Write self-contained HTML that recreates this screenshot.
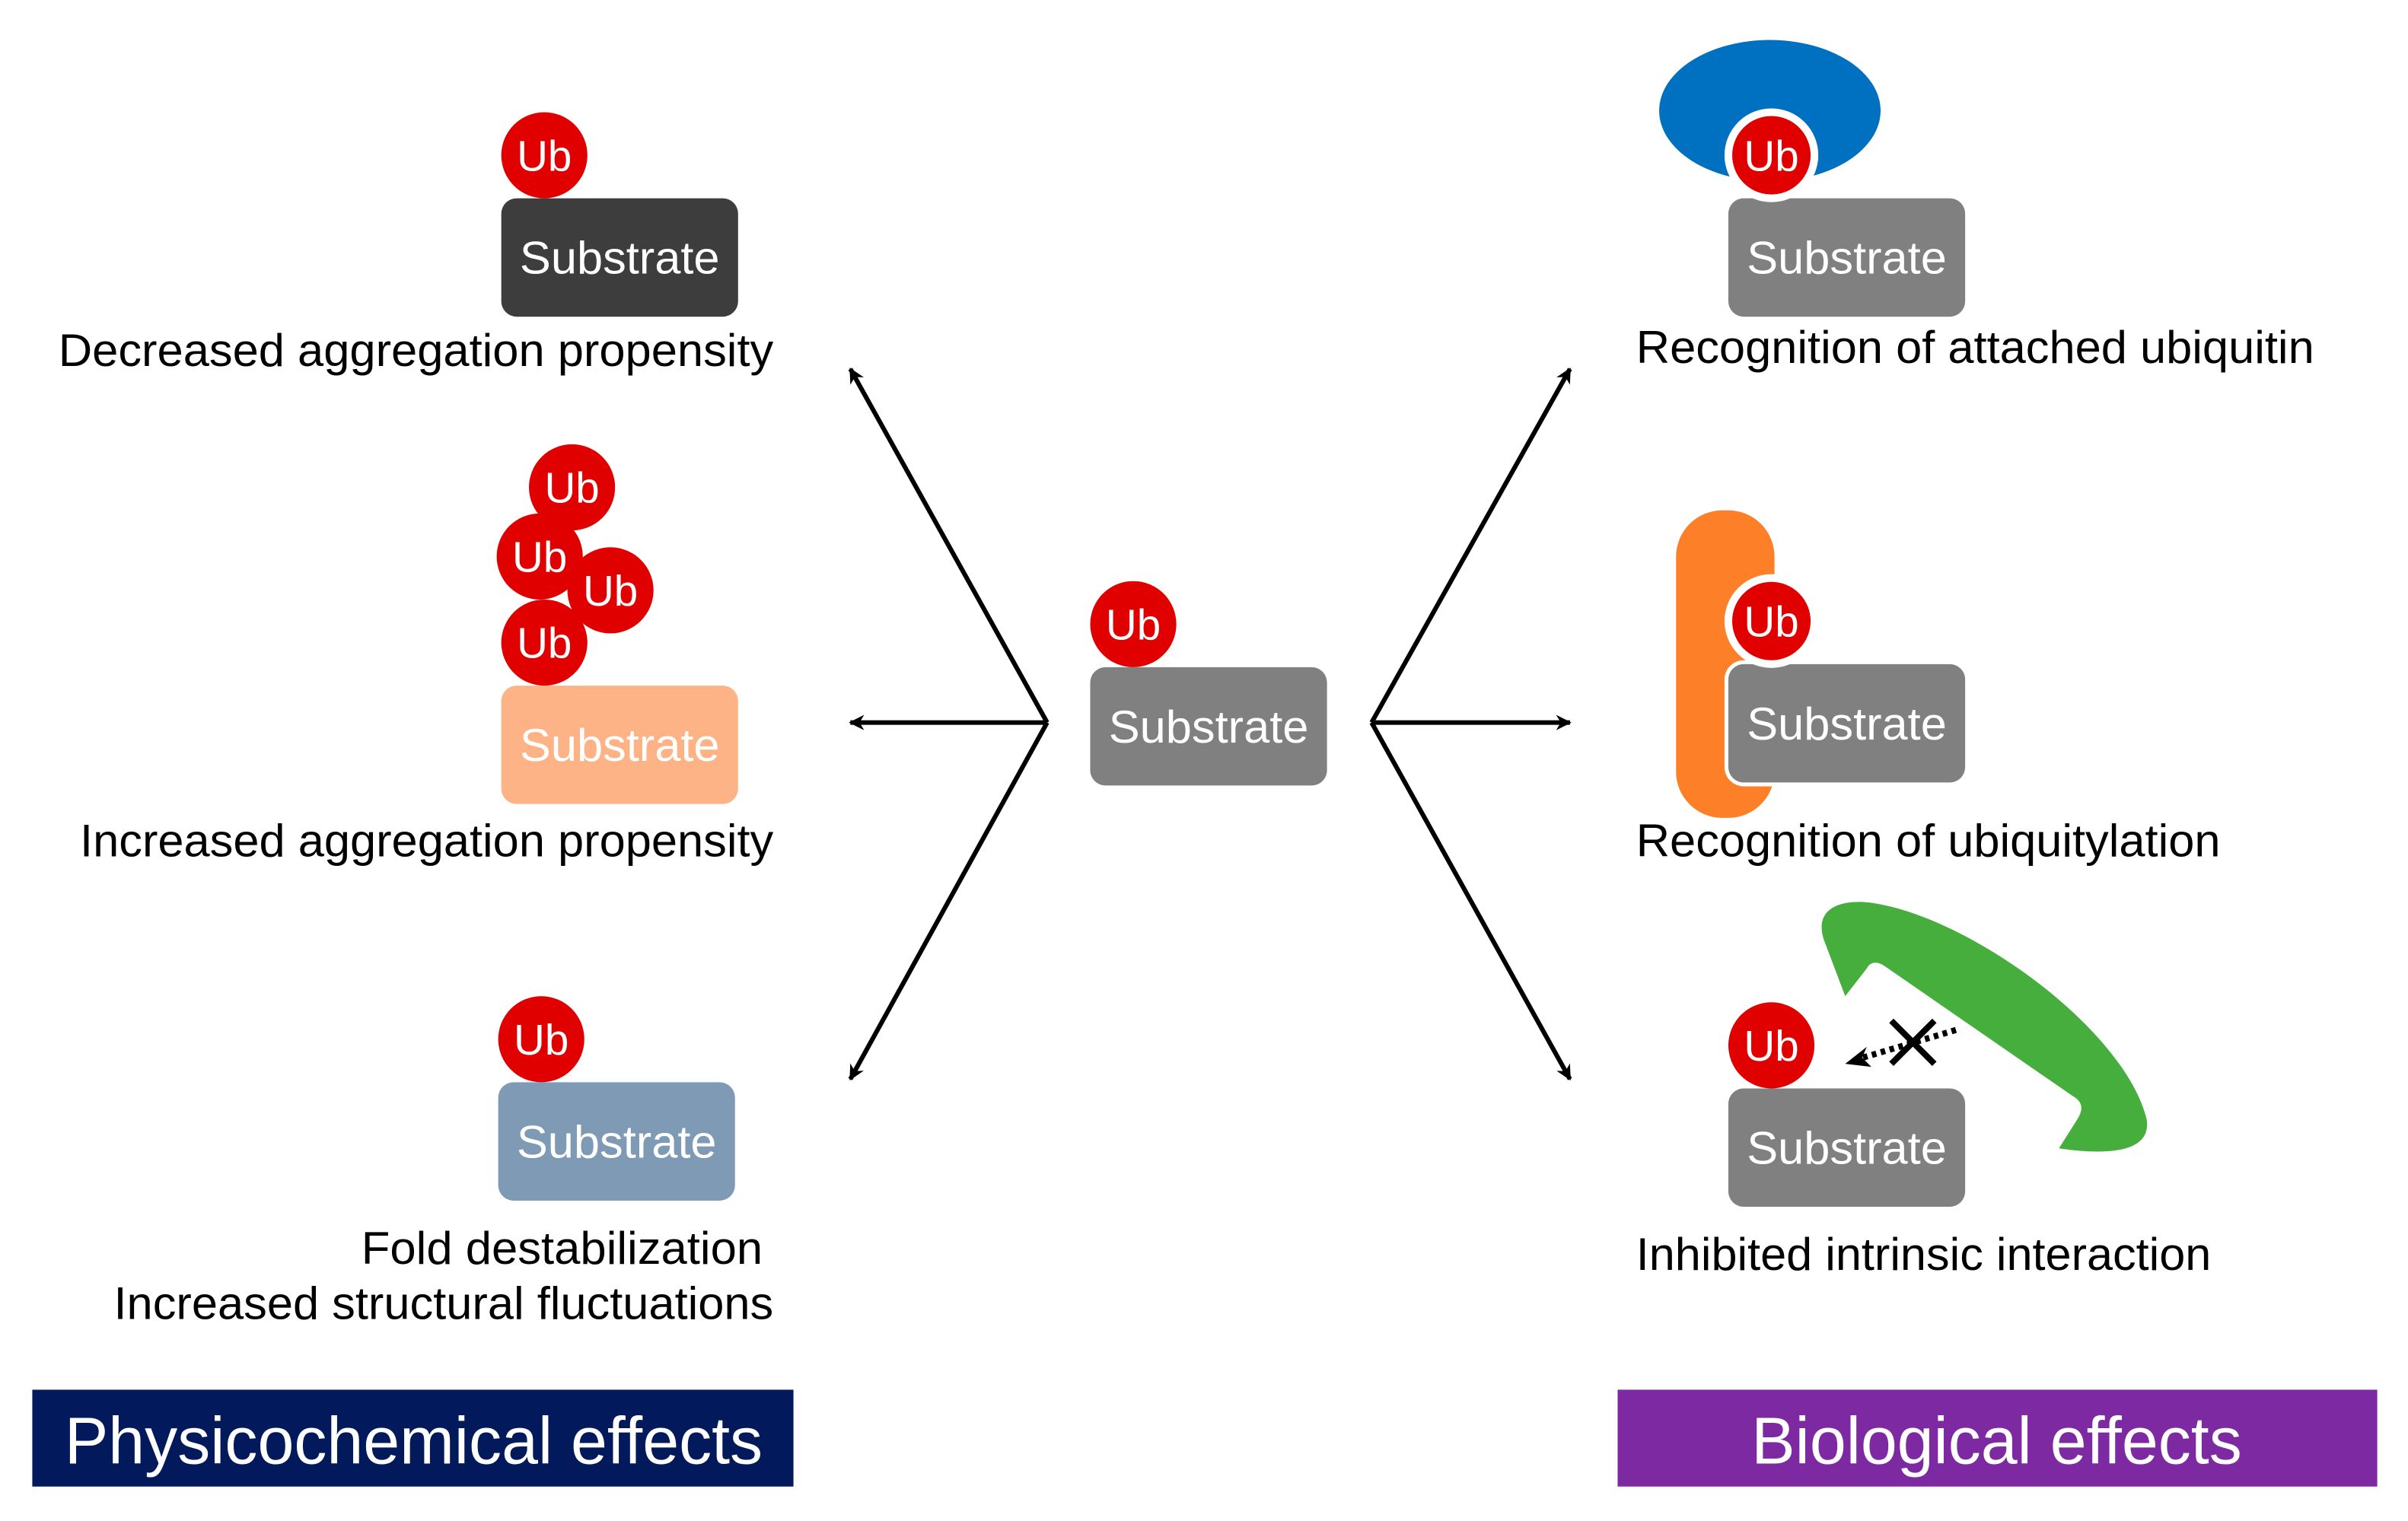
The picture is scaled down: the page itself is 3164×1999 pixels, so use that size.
<!DOCTYPE html>
<html><head><meta charset="utf-8"><style>html,body{margin:0;padding:0;background:#fff}svg{display:block}</style></head>
<body>
<svg width="3164" height="1999" viewBox="0 0 1566 989.4" preserveAspectRatio="none" xmlns="http://www.w3.org/2000/svg" font-family="'Liberation Sans', Arial, sans-serif">
<defs>
<marker id="ah" markerWidth="10" markerHeight="10" refX="9" refY="5" orient="auto" markerUnits="userSpaceOnUse">
<path d="M0,0 L10,5 L0,10 L3,5 Z" fill="#000"/>
</marker>
</defs>
<rect width="1566" height="990" fill="#fff"/>

<g stroke="#000" stroke-width="3" fill="none">
<line x1="681" y1="470" x2="553" y2="240" marker-end="url(#ah)"/>
<line x1="681" y1="470" x2="553" y2="470" marker-end="url(#ah)"/>
<line x1="681" y1="470" x2="553" y2="702" marker-end="url(#ah)"/>
<line x1="892" y1="470" x2="1021" y2="240" marker-end="url(#ah)"/>
<line x1="892" y1="470" x2="1021" y2="470" marker-end="url(#ah)"/>
<line x1="892" y1="470" x2="1021" y2="702" marker-end="url(#ah)"/>
</g>

<g font-size="30" fill="#fff" text-anchor="middle">
<rect x="326" y="129" width="154" height="77" rx="10" fill="#3d3d3d"/>
<text x="403" y="178" textLength="130" lengthAdjust="spacingAndGlyphs">Substrate</text>
<circle cx="354" cy="101" r="28" fill="#e00000"/>
<text x="354" y="111" font-size="28">Ub</text>

<rect x="326" y="446" width="154" height="77" rx="10" fill="#fdb385"/>
<text x="403" y="495" textLength="130" lengthAdjust="spacingAndGlyphs">Substrate</text>
<circle cx="372" cy="317" r="28" fill="#e00000"/>
<text x="372" y="327" font-size="28">Ub</text>
<circle cx="351" cy="362" r="28" fill="#e00000"/>
<text x="351" y="372" font-size="28">Ub</text>
<circle cx="397" cy="384" r="28" fill="#e00000"/>
<text x="397" y="394" font-size="28">Ub</text>
<circle cx="354" cy="418" r="28" fill="#e00000"/>
<text x="354" y="428" font-size="28">Ub</text>

<rect x="324" y="704" width="154" height="77" rx="10" fill="#7f9ab4"/>
<text x="401" y="753" textLength="130" lengthAdjust="spacingAndGlyphs">Substrate</text>
<circle cx="352" cy="676" r="28" fill="#e00000"/>
<text x="352" y="686" font-size="28">Ub</text>

<rect x="709" y="434" width="154" height="77" rx="10" fill="#808080"/>
<text x="786" y="483" textLength="130" lengthAdjust="spacingAndGlyphs">Substrate</text>
<circle cx="737" cy="406" r="28" fill="#e00000"/>
<text x="737" y="416" font-size="28">Ub</text>

<ellipse cx="1151" cy="72" rx="72" ry="46" fill="#0070c0"/>
<rect x="1124" y="129" width="154" height="77" rx="10" fill="#808080"/>
<text x="1201" y="178" textLength="130" lengthAdjust="spacingAndGlyphs">Substrate</text>
<circle cx="1152" cy="101" r="28" fill="#e00000" stroke="#fff" stroke-width="5"/>
<text x="1152" y="111" font-size="28">Ub</text>

<rect x="1090" y="332" width="64" height="200" rx="30" fill="#fd7f27"/>
<rect x="1124" y="432" width="154" height="77" rx="10" fill="#808080" stroke="#fff" stroke-width="5"/>
<rect x="1124" y="432" width="154" height="77" rx="10" fill="#808080"/>
<text x="1201" y="481" textLength="130" lengthAdjust="spacingAndGlyphs">Substrate</text>
<circle cx="1152" cy="404" r="28" fill="#e00000" stroke="#fff" stroke-width="5"/>
<text x="1152" y="414" font-size="28">Ub</text>

<path d="M1200,648 L1186,611 C1180,592 1195,585 1215,587 C1280,595 1382,670 1396,728 C1399,746 1380,753 1339,747 L1351,728 C1356,720 1353,716 1348,713 L1225,628 C1220,625 1216,626 1214,630 Z" fill="#45ae3c"/>
<rect x="1124" y="708" width="154" height="77" rx="10" fill="#808080"/>
<text x="1201" y="757" textLength="130" lengthAdjust="spacingAndGlyphs">Substrate</text>
<circle cx="1152" cy="680" r="28" fill="#e00000"/>
<text x="1152" y="690" font-size="28">Ub</text>
</g>
<line x1="1272" y1="670" x2="1208" y2="689" stroke="#000" stroke-width="4" stroke-dasharray="3,3"/>
<path d="M1200,692 L1214,681 L1211,688 L1217,694 Z" fill="#000"/>
<g stroke="#000" stroke-width="4">
<line x1="1230" y1="664" x2="1258" y2="692"/>
<line x1="1258" y1="664" x2="1230" y2="692"/>
</g>

<g font-size="30" fill="#000" lengthAdjust="spacingAndGlyphs">
<text x="38" y="238" textLength="465" lengthAdjust="spacingAndGlyphs">Decreased aggregation propensity</text>
<text x="52" y="557" textLength="451" lengthAdjust="spacingAndGlyphs">Increased aggregation propensity</text>
<text x="235" y="822" textLength="261" lengthAdjust="spacingAndGlyphs">Fold destabilization</text>
<text x="74" y="858" textLength="429" lengthAdjust="spacingAndGlyphs">Increased structural fluctuations</text>
<text x="1064" y="236" textLength="441" lengthAdjust="spacingAndGlyphs">Recognition of attached ubiquitin</text>
<text x="1064" y="557" textLength="380" lengthAdjust="spacingAndGlyphs">Recognition of ubiquitylation</text>
<text x="1064" y="826" textLength="374" lengthAdjust="spacingAndGlyphs">Inhibited intrinsic interaction</text>
</g>

<rect x="21" y="904" width="495" height="63" fill="#021a5b"/>
<text x="42" y="952" font-size="43" fill="#fff" textLength="454" lengthAdjust="spacingAndGlyphs">Physicochemical effects</text>
<rect x="1052" y="904" width="494" height="63" fill="#7d2aa2"/>
<text x="1139" y="952" font-size="43" fill="#fff" textLength="319" lengthAdjust="spacingAndGlyphs">Biological effects</text>
</svg>
</body></html>
